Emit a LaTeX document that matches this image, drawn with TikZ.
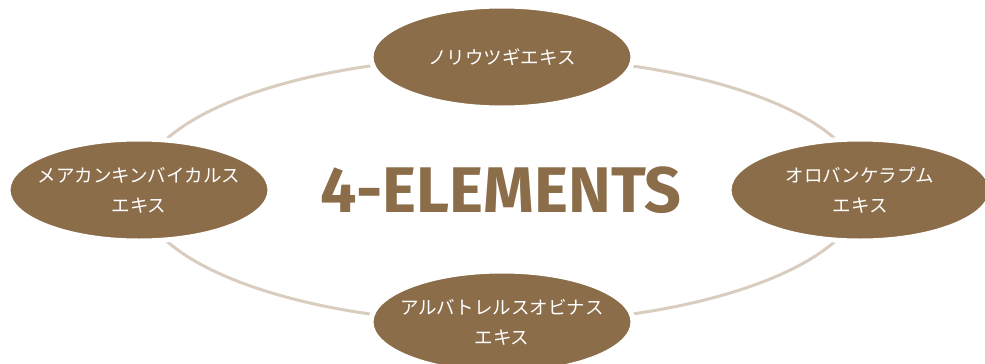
\documentclass[tikz,border=0pt]{standalone}
\usepackage{fontspec}
\setmainfont{Noto Sans CJK JP}
\newfontfamily\titelfont{Fira Sans}
\usetikzlibrary{shapes.geometric}
\definecolor{braun}{HTML}{8B6D4A}
\definecolor{sand}{HTML}{D9CDC0}
\tikzset{
	ring/.style={draw=sand, line width=3pt},
	element/.style={
		ellipse,
		fill=braun,
		draw=white, line width=5pt,
		minimum width=262pt,
		minimum height=102pt,
		inner xsep=-15pt, inner ysep=0pt,
		text=white,
		align=center,
		font=\fontsize{18.5}{30}\selectfont},
	titel/.style={
		text=braun,
		font=\titelfont\bfseries\fontsize{64.5}{64.5}\selectfont},
}
\begin{document}
\begin{tikzpicture}[x=1pt, y=-1pt]
		\useasboundingbox (0,0) rectangle (985,364);
		\coordinate (mitte) at (501,190);
		% ring behind the elements
		\draw[ring] (mitte) ellipse [x radius=362pt, y radius=133pt];
		\node[element] (nord) at (502,57)  {ノリウツギエキス};
		\node[element] (west) at (139,190) {メアカンキンバイカルス\\エキス};
		\node[element] (ost)  at (860,190) {オロバンケラプム\\エキス};
		\node[element] (sued) at (502,322) {アルバトレルスオビナス\\エキス};
		\node[titel] (titel) at (mitte) {4-ELEMENTS};
		
		\end{tikzpicture}
\end{document}
